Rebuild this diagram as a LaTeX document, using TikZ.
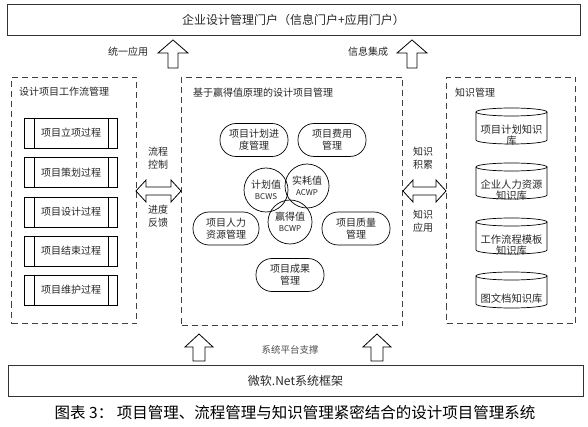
\documentclass[tikz,border=0pt]{standalone}
\usepackage{fontspec}
\setmainfont{Noto Sans CJK SC}
\begin{document}
\begin{tikzpicture}[x=1pt,y=-1pt,
  every node/.style={font=\fontsize{10}{12}\selectfont, text=black!85, inner sep=0pt},
  plainbox/.style={draw=black!80, line width=0.9pt},
  dashbox/.style={draw=black!75, line width=1pt, dash pattern=on 6pt off 4pt},
  procbox/.style={draw=black, line width=0.7pt, minimum width=93pt, minimum height=30pt},
  pill/.style={draw=black, line width=0.7pt, rounded corners=16pt, minimum width=68pt, minimum height=33pt, align=center},
  valcircle/.style={draw=black, line width=0.7pt, circle, minimum size=44pt, align=center},
  blockarrow/.style={draw=black, line width=0.8pt, fill=white},
  cyl/.style={draw=black, line width=0.7pt},
  sidelabel/.style={font=\fontsize{10}{13}\selectfont, align=center},
  latin/.style={font=\fontsize{8}{10}\selectfont}
]
\useasboundingbox (0,0) rectangle (588,427);

% top portal
\node[plainbox, minimum width=573pt, minimum height=31pt, font=\fontsize{12}{14}\selectfont] (portal) at (293.5,20) {企业设计管理门户（信息门户+应用门户）};

% top arrows
\coordinate (ua1) at (173,40);
\draw[blockarrow] (ua1) -- ++(15,13) -- ++(-10,0) -- ++(0,15) -- ++(-10,0) -- ++(0,-15) -- ++(-10,0) -- cycle;
\node (lab1) at (128,52) {统一应用};
\coordinate (ua2) at (412,40);
\draw[blockarrow] (ua2) -- ++(15,13) -- ++(-10,0) -- ++(0,15) -- ++(-10,0) -- ++(0,-15) -- ++(-10,0) -- cycle;
\node (lab2) at (368,52) {信息集成};

% left dashed box
\node[dashbox, anchor=north west, minimum width=125pt, minimum height=246pt] (flow) at (11,77) {};
\node[anchor=west] (flowtitle) at (19,92) {设计项目工作流管理};
\foreach \n/\y/\t in {p1/133/项目立项过程, p2/172.5/项目策划过程, p3/212/项目设计过程, p4/251/项目结束过程, p5/290/项目维护过程}{
  \node[procbox] (\n) at (71,\y) {\t};
  \draw[line width=0.7pt] ([xshift=10pt]\n.north west) -- ([xshift=10pt]\n.south west);
  \draw[line width=0.7pt] ([xshift=-10pt]\n.north east) -- ([xshift=-10pt]\n.south east);
}

% center dashed box
\node[dashbox, anchor=north west, minimum width=221pt, minimum height=248pt] (evm) at (181,77) {};
\node[anchor=west] (evmtitle) at (193,93) {基于赢得值原理的设计项目管理};
\node[pill] (plan) at (254,140) {项目计划进\\度管理};
\node[pill] (cost) at (332,140) {项目费用\\管理};
\node[pill, minimum width=66pt] (hr) at (226,228.5) {项目人力\\资源管理};
\node[pill] (quality) at (356,228.5) {项目质量\\管理};
\node[pill] (result) at (290,275) {项目成果\\管理};
\node[valcircle] (bcws) at (266,190) {计划值\\[-1pt]{\fontsize{8}{10}\selectfont BCWS}};
\node[valcircle] (acwp) at (307,186) {实耗值\\[-1pt]{\fontsize{8}{10}\selectfont ACWP}};
\node[valcircle] (bcwp) at (290,222) {赢得值\\[-1pt]{\fontsize{8}{10}\selectfont BCWP}};

% right dashed box
\node[dashbox, anchor=north west, minimum width=129pt, minimum height=246pt] (km) at (446,77) {};
\node[anchor=west] (kmtitle) at (455,93) {知识管理};
\foreach \n/\t/\tx in {108/kb1/{项目计划知识\\库}, 163/kb2/{企业人力资源\\知识库}, 218/kb3/{工作流程模板\\知识库}, 272/kb4/{图文档知识库}}{
  \draw[cyl] (511.5,\n+4) ellipse [x radius=35.5, y radius=4];
  \draw[cyl] (476,\n+4) -- (476,\n+32) arc[start angle=180, end angle=0, x radius=35.5, y radius=4] -- (547,\n+4);
  \node[align=center, font=\fontsize{10.3}{11}\selectfont] (\t) at (511.5,\n+27) {\tx};
}

% horizontal double arrows
\coordinate (da1) at (136,191);
\draw[blockarrow] (da1) -- ++(10,-11) -- ++(0,7) -- ++(25,0) -- ++(0,-7) -- ++(10,11) -- ++(-10,11) -- ++(0,-7) -- ++(-25,0) -- ++(0,7) -- cycle;
\node[sidelabel] (lab3) at (158,158.5) {流程\\控制};
\node[sidelabel] (lab4) at (158,216.5) {进度\\反馈};
\coordinate (da2) at (403,191);
\draw[blockarrow] (da2) -- ++(10,-11) -- ++(0,7) -- ++(23,0) -- ++(0,-7) -- ++(10,11) -- ++(-10,11) -- ++(0,-7) -- ++(-23,0) -- ++(0,7) -- cycle;
\node[sidelabel] (lab5) at (423,158.5) {知识\\积累};
\node[sidelabel] (lab6) at (423,221.5) {知识\\应用};

% bottom arrows
\coordinate (ba1) at (199,334);
\draw[blockarrow] (ba1) -- ++(14,13) -- ++(-8,0) -- ++(0,14) -- ++(-12,0) -- ++(0,-14) -- ++(-8,0) -- cycle;
\coordinate (ba2) at (377,334);
\draw[blockarrow] (ba2) -- ++(14,13) -- ++(-8,0) -- ++(0,14) -- ++(-12,0) -- ++(0,-14) -- ++(-8,0) -- cycle;
\node[font=\fontsize{9.5}{11}\selectfont, text=black!70] (lab7) at (290,350) {系统平台支撑};

% bottom framework
\node[plainbox, minimum width=575pt, minimum height=31pt, font=\fontsize{12}{14}\selectfont] (net) at (295.5,380.5) {微软.Net系统框架};

% caption
\node[font=\fontsize{15.5}{17}\selectfont, text=black] (caption) at (295,413) {图表 3：\ 项目管理、流程管理与知识管理紧密结合的设计项目管理系统};
\end{tikzpicture}
\end{document}
